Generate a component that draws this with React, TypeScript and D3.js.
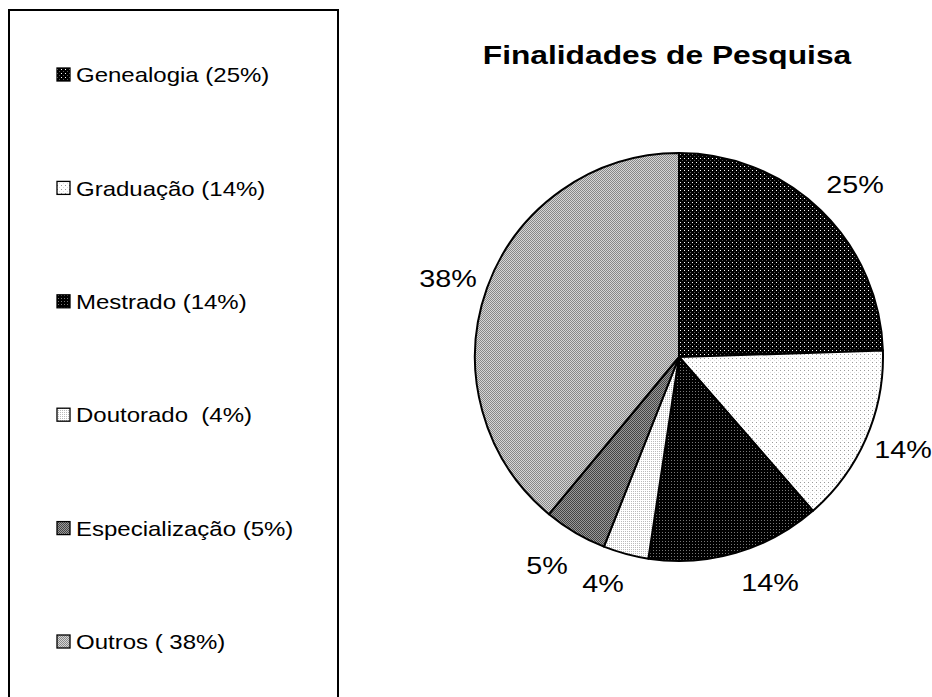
import React from "react";
import * as d3 from "d3";

const categories = ["Genealogia", "Graduação", "Mestrado", "Doutorado", "Especialização", "Outros"];
const legendLabels = ["Genealogia (25%)", "Graduação (14%)", "Mestrado (14%)", "Doutorado  (4%)", "Especialização (5%)", "Outros ( 38%)"];
const sliceValues = [24.5, 14.1, 13.8, 3.6, 5.0, 39.0];
const sliceLabels = ["25%", "14%", "14%", "4%", "5%", "38%"];
const labelPositions: [number, number][] = [
  [855, 185], [903, 450], [770, 583], [603, 584], [547, 566], [448, 279],
];
const patternIds = ["pGen", "pGrad", "pMest", "pDout", "pEsp", "pOut"];

const W = 932;
const H = 697;
const cx = 679;
const cy = 357;
const R = 204;

export default function App() {
  const pie = d3.pie<number>().sort(null).value((d) => d).startAngle(0).endAngle(2 * Math.PI);
  const arcs = pie(sliceValues);
  const arc = d3.arc<d3.PieArcDatum<number>>().innerRadius(0).outerRadius(R);
  const legendY = d3.scaleLinear().domain([0, categories.length - 1]).range([75, 642]);

  return (
    <svg width={W} height={H} style={{ position: "absolute", left: 0, top: 0 }} fontFamily="Arial, 'Liberation Sans', sans-serif">
      <defs>
        <pattern id="pGen" width="4" height="4" patternUnits="userSpaceOnUse">
          <rect width="4" height="4" fill="#000" />
          <rect x="1" y="1" width="1" height="1" fill="#fff" />
          <rect x="3" y="3" width="1" height="1" fill="#555" />
        </pattern>
        <pattern id="pGrad" width="4" height="4" patternUnits="userSpaceOnUse">
          <rect width="4" height="4" fill="#fff" />
          <rect x="1" y="1" width="1" height="1" fill="#999" />
          <rect x="3" y="3" width="1" height="1" fill="#ddd" />
        </pattern>
        <pattern id="pMest" width="3" height="3" patternUnits="userSpaceOnUse">
          <rect width="3" height="3" fill="#000" />
          <rect x="1" y="1" width="1" height="1" fill="#777" />
        </pattern>
        <pattern id="pDout" width="2" height="2" patternUnits="userSpaceOnUse">
          <rect width="2" height="2" fill="#fff" />
          <rect x="0" y="0" width="1" height="1" fill="#bbb" />
        </pattern>
        <pattern id="pEsp" width="2" height="2" patternUnits="userSpaceOnUse">
          <rect width="2" height="2" fill="#999" />
          <rect x="0" y="0" width="1" height="1" fill="#444" />
          <rect x="1" y="1" width="1" height="1" fill="#444" />
        </pattern>
        <pattern id="pOut" width="2" height="2" patternUnits="userSpaceOnUse">
          <rect width="2" height="2" fill="#d6d6d6" />
          <rect x="0" y="0" width="1" height="1" fill="#888" />
          <rect x="1" y="1" width="1" height="1" fill="#888" />
        </pattern>
      </defs>
      <rect x={0} y={0} width={W} height={H} fill="#fff" />

      {/* Legend box */}
      <rect x={9} y={10} width={329} height={720} fill="none" stroke="#000" strokeWidth={2} />
      {categories.map((c, i) => (
        <g key={c}>
          <rect x={57} y={legendY(i) - 7} width={13} height={13} fill={`url(#${patternIds[i]})`} stroke="#000" strokeWidth={1.3} />
          <text transform={`translate(76,${legendY(i)}) scale(1.2,1)`} dy="0.36em" fontSize={20} fill="#000" style={{ whiteSpace: "pre" }}>{legendLabels[i]}</text>
        </g>
      ))}

      {/* Title */}
      <text transform="translate(667,55) scale(1.22,1)" dy="0.36em" textAnchor="middle" fontSize={26} fontWeight="bold" fill="#000">
        Finalidades de Pesquisa
      </text>

      {/* Pie */}
      <g transform={`translate(${cx},${cy})`}>
        {arcs.map((a, i) => (
          <path key={categories[i]} d={arc(a) || ""} fill={`url(#${patternIds[i]})`} stroke="#000" strokeWidth={2} strokeLinejoin="round" />
        ))}
      </g>

      {sliceLabels.map((l, i) => (
        <text key={i} transform={`translate(${labelPositions[i][0]},${labelPositions[i][1]}) scale(1.25,1)`} dy="0.36em" textAnchor="middle" fontSize={23} fill="#000">
          {l}
        </text>
      ))}
    </svg>
  );
}
